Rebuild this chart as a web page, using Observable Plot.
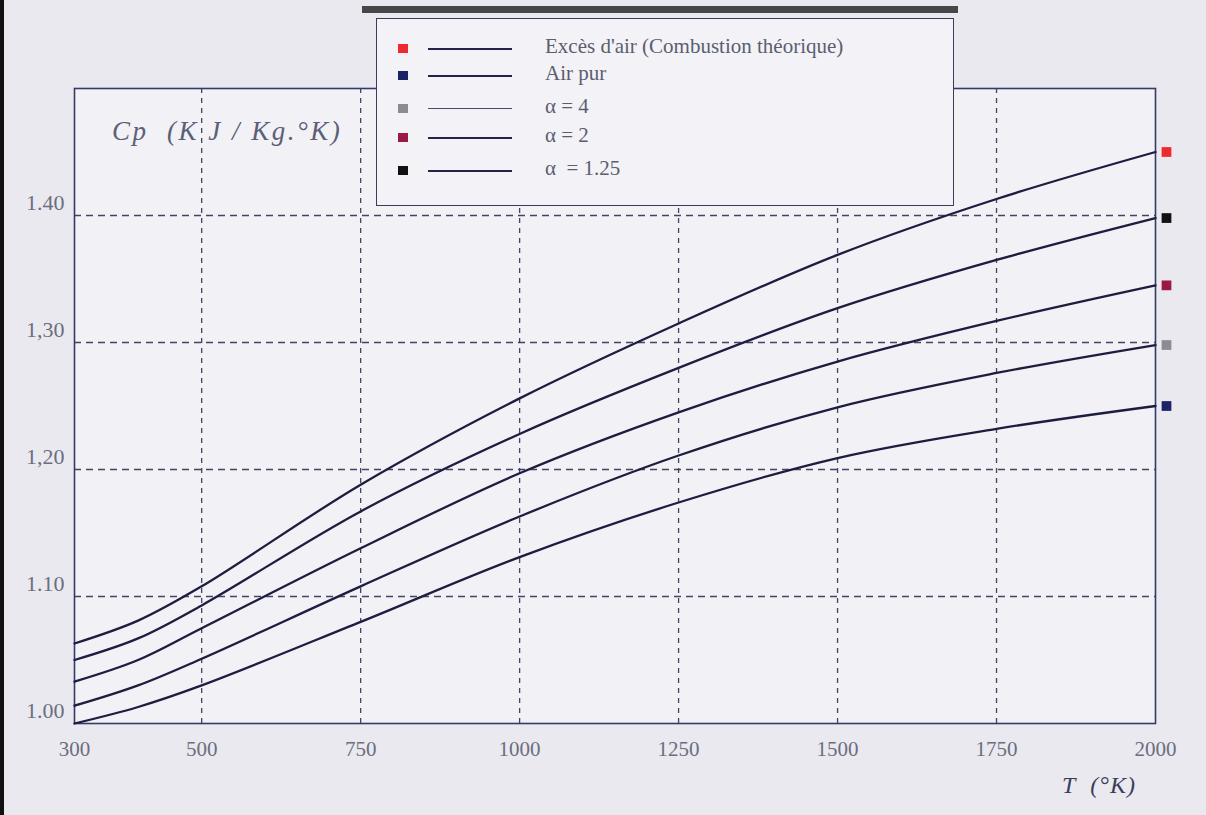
<!DOCTYPE html>
<html>
<head>
<meta charset="utf-8">
<script src="https://cdn.jsdelivr.net/npm/d3@7"></script>
<script src="https://cdn.jsdelivr.net/npm/@observablehq/plot@0.6"></script>
<style>
  html, body { margin: 0; padding: 0; background: #eae9ef; }
  #wrap { position: relative; width: 1206px; height: 815px; overflow: hidden;
          border-left: 4px solid #111; box-sizing: border-box; }
  #chart { position: absolute; left: -4px; top: 0; }
  .legend { position: absolute; left: 372px; top: 18px; width: 578px; height: 188px;
            background: #f3f2f6; border: 1.5px solid #3c3c5a; box-sizing: border-box;
            font-family: "Liberation Serif", serif; font-size: 21px; color: #5a5e70; }
  .row { position: absolute; left: 0; height: 20px; }
  .sq { position: absolute; left: 21px; width: 10px; height: 9px; }
  .ln { position: absolute; left: 51px; width: 84px; height: 0; border-top: 2px solid #23234a; }
  .lt { position: absolute; left: 168px; white-space: nowrap; }
  .cp { position: absolute; left: 108px; top: 116px; font-family: "Liberation Serif", serif;
        font-style: italic; font-size: 27px; letter-spacing: 2.5px; color: #5a6078; white-space: nowrap; }
  .tl { position: absolute; left: 1058px; top: 772px; font-family: "Liberation Serif", serif;
        font-style: italic; font-size: 24px; letter-spacing: 1px; color: #3a3e58; white-space: nowrap; }
  .topedge { position: absolute; left: 358px; top: 6px; width: 596px; height: 7px; background: #2a2a2a; opacity: 0.85; }
</style>
</head>
<body>
<div id="wrap">
  <div id="chart"></div>
  <div class="topedge"></div>
  <div class="legend" id="legend"></div>
  <div class="cp">Cp&nbsp; (K J / Kg.°K)</div>
  <div class="tl">T&nbsp; (°K)</div>
</div>
<script>
// Temperatures (°K)
const T = [300, 400, 500, 750, 1000, 1250, 1500, 1750, 2000];
// Cp (kJ/kg.°K)
const excesAir = [1.063, 1.081, 1.108, 1.188, 1.256, 1.315, 1.369, 1.413, 1.450];
const alpha125 = [1.050, 1.067, 1.093, 1.167, 1.228, 1.280, 1.327, 1.365, 1.398];
const alpha2   = [1.033, 1.050, 1.075, 1.138, 1.197, 1.245, 1.285, 1.317, 1.345];
const alpha4   = [1.014, 1.030, 1.051, 1.108, 1.163, 1.211, 1.249, 1.276, 1.298];
const airPur   = [1.000, 1.013, 1.030, 1.080, 1.131, 1.174, 1.209, 1.232, 1.250];

const seriesNames = ["Excès d'air (Combustion théorique)", "Air pur", "α = 4", "α = 2", "α&nbsp; = 1.25"];
const seriesValues = [excesAir, airPur, alpha4, alpha2, alpha125];
const seriesColors = ["#ee2a2e", "#1c2266", "#8c8a92", "#9b1a45", "#111111"];

const xTicks = [300, 500, 750, 1000, 1250, 1500, 1750, 2000];
const yTicks = [1.0, 1.1, 1.2, 1.3, 1.4];
const yTickLabels = ["1.00", "1.10", "1,20", "1,30", "1.40"];

const rows = [];
seriesNames.forEach((name, i) => {
  T.forEach((t, j) => rows.push({series: name, T: t, cp: seriesValues[i][j]}));
});
const ends = seriesNames.map((name, i) => ({series: name, T: T[T.length - 1], cp: seriesValues[i][T.length - 1], color: seriesColors[i]}));

const font = "Liberation Serif";
const chart = Plot.plot({
  width: 1206,
  height: 815,
  marginLeft: 74,
  marginRight: 51,
  marginTop: 88,
  marginBottom: 92,
  style: {background: "transparent", fontFamily: font, fontSize: "21px", color: "#6a6e80"},
  x: {domain: [300, 2000], label: null},
  y: {domain: [1.0, 1.5], label: null},
  marks: [
    Plot.frame({fill: "#f2f1f5", stroke: "none"}),
    Plot.gridY([1.1, 1.2, 1.3, 1.4], {stroke: "#3a3a5c", strokeOpacity: 0.95, strokeWidth: 1.3, strokeDasharray: "7,5"}),
    Plot.gridX([500, 750, 1000, 1250, 1500, 1750], {stroke: "#3a3a5c", strokeOpacity: 0.95, strokeWidth: 1.3, strokeDasharray: "5,5"}),
    Plot.frame({stroke: "#353a6a", strokeWidth: 1.6}),
    Plot.axisX(xTicks, {tickSize: 0, tickPadding: 18, fontSize: 21, fill: "#6a6e80", label: null, tickFormat: d3.format("d")}),
    Plot.axisY(yTicks, {tickSize: 0, tickPadding: 10, dy: -13, fontSize: 22, fill: "#6a6e80", label: null,
      tickFormat: (d) => yTickLabels[yTicks.indexOf(d)]}),
    Plot.line(rows, {x: "T", y: "cp", z: "series", curve: "catmull-rom", stroke: "#1d1d40", strokeWidth: 2.3}),
    Plot.dot(ends, {x: "T", y: "cp", fill: "color", symbol: "square", r: 5.5, dx: 11})
  ]
});
document.getElementById("chart").appendChild(chart);

// Legend
const legend = document.getElementById("legend");
const rowTops = [25, 52, 85, 114, 147];
seriesNames.forEach((name, i) => {
  const r = document.createElement("div");
  r.className = "row";
  r.style.top = rowTops[i] + "px";
  r.innerHTML = `<div class="sq" style="background:${seriesColors[i]};top:0px"></div>` +
    `<div class="ln" style="top:4px;${i === 2 ? 'border-top:1.5px solid #4a4a70;' : ''}"></div>` +
    `<div class="lt" style="top:-10px">${name}</div>`;
  legend.appendChild(r);
});
</script>
</body>
</html>
